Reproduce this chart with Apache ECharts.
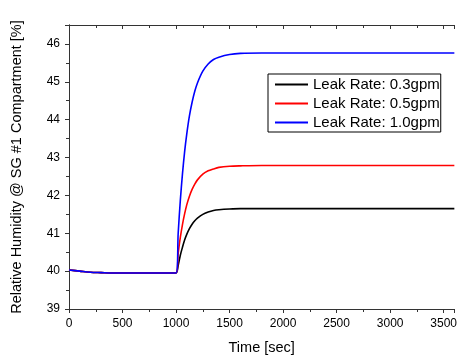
<!DOCTYPE html>
<html>
<head>
<meta charset="utf-8">
<script src="https://cdn.jsdelivr.net/npm/echarts@6/dist/echarts.min.js"></script>
<style>
  html, body { margin: 0; padding: 0; background: #fff; }
  #chart { width: 460px; height: 360px; }
</style>
</head>
<body>
<div id="chart"></div>
<script>
// time points [sec]
const times = [0, 100, 200, 300, 400, 500, 600, 700, 800, 900, 1000,
  1020, 1040, 1060, 1080, 1100, 1125, 1150, 1175, 1200, 1250, 1300, 1350,
  1400, 1500, 1600, 1800, 2000, 2200, 2400, 2600, 2800, 3000, 3200, 3400, 3600]

const base = [40.03, 40.00, 39.97, 39.96, 39.95, 39.95, 39.95, 39.95, 39.95, 39.95, 39.95]

// relative humidity [%] per leak rate
const leak03 = base.concat([40.15, 40.42, 40.63, 40.82, 40.97, 41.12, 41.24, 41.33, 41.40,
  41.50, 41.56, 41.60, 41.62, 41.64, 41.65, 41.65, 41.65, 41.65, 41.65, 41.65, 41.65,
  41.65, 41.65, 41.65, 41.65])
const leak05 = base.concat([40.47, 40.89, 41.23, 41.51, 41.75, 41.98, 42.16, 42.30, 42.41,
  42.56, 42.65, 42.70, 42.74, 42.77, 42.78, 42.79, 42.79, 42.79, 42.79, 42.79, 42.79,
  42.79, 42.79, 42.79, 42.79])
const leak10 = base.concat([41.00, 41.87, 42.57, 43.15, 43.62, 44.10, 44.46, 44.75, 44.97,
  45.28, 45.47, 45.59, 45.65, 45.72, 45.75, 45.76, 45.76, 45.76, 45.76, 45.76, 45.76,
  45.76, 45.76, 45.76, 45.76])

const seriesNames = ['Leak Rate: 0.3gpm', 'Leak Rate: 0.5gpm', 'Leak Rate: 1.0gpm']
const seriesColors = ['#000000', '#ff0000', '#0000ff']
const seriesData = [leak03, leak05, leak10]

const font = 'Liberation Sans, Arial, sans-serif'
const axisColor = '#333'

function pairs(values) {
  return times.map((t, i) => [t, values[i]])
}

const chart = echarts.init(document.getElementById('chart'))

chart.setOption({
  animation: false,
  grid: { left: 69, right: 2, top: 25, bottom: 50 },
  legend: {
    orient: 'vertical',
    left: 268,
    top: 74,
    width: 175,
    padding: [3, 1, 2, 7],
    itemGap: 4,
    itemWidth: 33,
    itemHeight: 2,
    icon: 'rect',
    borderColor: '#000',
    borderWidth: 1,
    textStyle: { fontFamily: font, fontSize: 15, lineHeight: 15, color: '#000', padding: [0, 0, 0, 0] },
    data: seriesNames
  },
  xAxis: [{
    type: 'value',
    min: 0,
    max: 3600,
    interval: 500,
    name: 'Time [sec]',
    nameLocation: 'middle',
    nameGap: 31,
    nameTextStyle: { fontFamily: font, fontSize: 14.5, color: '#000', verticalAlign: 'top' },
    axisLine: { lineStyle: { color: axisColor } },
    axisTick: { length: 4, lineStyle: { color: axisColor } },
    minorTick: { show: true, splitNumber: 2, length: 3, lineStyle: { color: axisColor } },
    axisLabel: {
      fontFamily: font, fontSize: 12, color: '#000', margin: 9, showMaxLabel: false,
      formatter: v => String(v)
    },
    splitLine: { show: false }
  }, {
    type: 'value',
    position: 'top',
    min: 0,
    max: 3600,
    interval: 500,
    axisLine: { lineStyle: { color: axisColor } },
    axisTick: { inside: true, length: 4, lineStyle: { color: axisColor } },
    minorTick: { show: true, splitNumber: 2, length: 3, lineStyle: { color: axisColor } },
    axisLabel: { show: false },
    splitLine: { show: false }
  }],
  yAxis: [{
    type: 'value',
    min: 39,
    max: 46.5,
    interval: 1,
    name: 'Relative Humidity @ SG #1 Compartment [%]',
    nameLocation: 'middle',
    nameGap: 45,
    nameTextStyle: { fontFamily: font, fontSize: 14.5, color: '#000' },
    axisLine: { show: true, lineStyle: { color: axisColor } },
    axisTick: { show: true, length: 4, lineStyle: { color: axisColor } },
    minorTick: { show: true, splitNumber: 2, length: 3, lineStyle: { color: axisColor } },
    axisLabel: {
      fontFamily: font, fontSize: 12, color: '#000', margin: 9,
      formatter: v => (Number.isInteger(v) ? String(v) : '')
    },
    splitLine: { show: false }
  }, {
    type: 'value',
    position: 'right',
    min: 39,
    max: 46.5,
    interval: 1,
    axisLine: { show: true, lineStyle: { color: axisColor } },
    axisTick: { show: true, inside: true, length: 4, lineStyle: { color: axisColor } },
    minorTick: { show: true, splitNumber: 2, length: 3, lineStyle: { color: axisColor } },
    axisLabel: { show: false },
    splitLine: { show: false }
  }],
  series: seriesNames.map((name, i) => ({
    name: name,
    type: 'line',
    symbol: 'none',
    smooth: 0.3,
    data: pairs(seriesData[i]),
    lineStyle: { color: seriesColors[i], width: 1.6 },
    itemStyle: { color: seriesColors[i] },
    z: 2 + i
  }))
})
</script>
</body>
</html>
